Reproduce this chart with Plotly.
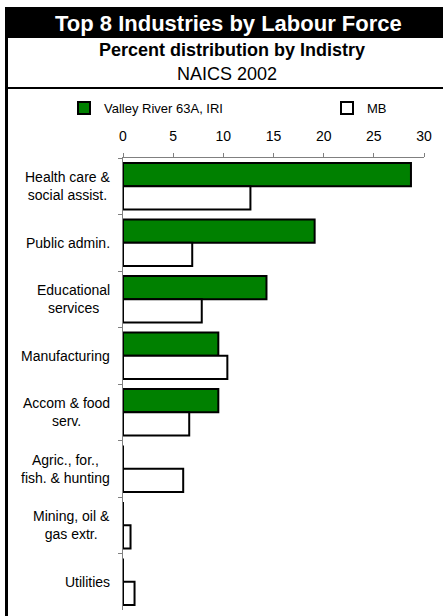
import plotly.graph_objects as go

categories = ["Health care &<br>social assist.", "Public admin.", "Educational<br>services",
              "Manufacturing", "Accom & food<br>serv.", "Agric., for.,<br>fish. & hunting",
              "Mining, oil &<br>gas extr.", "Utilities"]
valley_river = [28.7, 19.1, 14.3, 9.5, 9.5, 0, 0, 0]
mb = [12.7, 6.9, 7.85, 10.4, 6.6, 6.0, 0.75, 1.15]
series_names = ["Valley River 63A, IRI", "MB"]
x_ticks = [0, 5, 10, 15, 20, 25, 30]

W, H = 443, 616
L, R, T, B = 123, 19, 158, 6
PW, PH = W - L - R, H - T - B
FONT = "Liberation Sans, Arial, sans-serif"


def px(xpix):
    return (xpix - L) / PW


def py(ypix):
    return (H - B - ypix) / PH


fig = go.Figure()
fig.add_trace(go.Bar(
    y=categories, x=valley_river, orientation="h", name=series_names[0],
    marker=dict(color="#008000", line=dict(color="black", width=2)),
    legend="legend", showlegend=True))
fig.add_trace(go.Bar(
    y=categories, x=mb, orientation="h", name=series_names[1],
    marker=dict(color="white", line=dict(color="black", width=2)),
    legend="legend2", showlegend=True))

shapes = [
    dict(type="rect", xref="paper", yref="paper", x0=px(5), x1=px(443), y0=py(7), y1=py(38),
         fillcolor="black", line=dict(width=0), layer="below"),
    dict(type="line", xref="paper", yref="paper", x0=px(6.5), x1=px(6.5), y0=py(7), y1=py(616),
         line=dict(color="black", width=3)),
    dict(type="line", xref="paper", yref="paper", x0=px(5), x1=px(443), y0=py(88), y1=py(88),
         line=dict(color="black", width=2)),
]

annotations = [
    dict(text="<b>Top 8 Industries by Labour Force</b>", x=px(228), y=py(23), xref="paper", yref="paper",
         showarrow=False, font=dict(family=FONT, size=22, color="white"), xanchor="center", yanchor="middle"),
    dict(text="<b>Percent distribution by Indistry</b>", x=px(232), y=py(50), xref="paper", yref="paper",
         showarrow=False, font=dict(family=FONT, size=18, color="black"), xanchor="center", yanchor="middle"),
    dict(text="NAICS 2002", x=px(227), y=py(74), xref="paper", yref="paper",
         showarrow=False, font=dict(family=FONT, size=18, color="black"), xanchor="center", yanchor="middle"),
]
for c in categories:
    annotations.append(dict(text=c, x=0, xref="paper", y=c, yref="y", xshift=-12, xanchor="right",
                            yanchor="middle", align="center", showarrow=False, borderpad=0,
                            font=dict(family=FONT, size=14, color="black")))

fig.update_layout(
    width=W, height=H,
    margin=dict(l=L, r=R, t=T, b=B, pad=0),
    paper_bgcolor="white", plot_bgcolor="white",
    barmode="group", bargap=0.18, bargroupgap=0,
    showlegend=True,
    font=dict(family=FONT, size=14, color="black"),
    xaxis=dict(side="top", range=[0, 30], tickvals=x_ticks, ticks="outside", ticklen=4,
               tickcolor="#808080", showline=True, linecolor="#808080", linewidth=1,
               showgrid=False, zeroline=False, ticklabelstandoff=6,
               tickfont=dict(family=FONT, size=14, color="black")),
    yaxis=dict(autorange="reversed", showticklabels=False, ticks="outside", ticklen=4,
               tickson="boundaries", tickcolor="#808080", showline=True, linecolor="#808080",
               linewidth=1, showgrid=False, zeroline=False),
    legend=dict(orientation="h", xref="container", yref="container", x=64 / W, y=1 - 108 / H,
                xanchor="left", yanchor="middle", font=dict(family=FONT, size=13),
                bgcolor="rgba(0,0,0,0)", itemclick=False, visible=True),
    legend2=dict(orientation="h", xref="container", yref="container", x=327 / W, y=1 - 108 / H,
                 xanchor="left", yanchor="middle", font=dict(family=FONT, size=13),
                 bgcolor="rgba(0,0,0,0)", itemclick=False, visible=True),
    shapes=shapes, annotations=annotations,
)

fig.write_html("out.html", config={"displayModeBar": False},
               post_script="document.body.style.margin='0';document.body.style.padding='0';"
                           "document.body.style.overflow='hidden';"
                           "document.documentElement.style.overflow='hidden';")
